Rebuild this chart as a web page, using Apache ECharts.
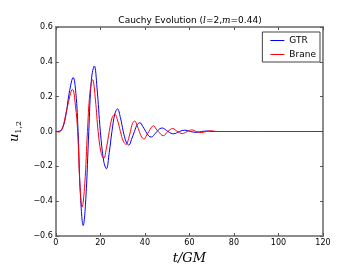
<!DOCTYPE html>
<html><head><meta charset="utf-8">
<script src="https://cdn.jsdelivr.net/npm/echarts@6/dist/echarts.min.js"></script>
<style>html,body{margin:0;padding:0;background:#fff}#c{width:360px;height:270px}</style>
</head><body><div id="c"></div>
<script>
const xTicks = [0, 20, 40, 60, 80, 100, 120];
const yTicks = [-0.6, -0.4, -0.2, 0.0, 0.2, 0.4, 0.6];
const gtrT = [0,2,4,6,7.8,9,10,11,12.3,13.5,14.8,16,17.3,18.5,20,21.5,22.7,24,25.2,26.5,27.7,29,30.3,31.6,32.8,34,35.3,36.6,37.8,39,40.4,41.7,42.9,44.2,45.4,46.7,47.9,49.1,50.4,51.7,53,54.2,55.5,58,60.5,63,65.5,68,70.5,75,120];
const gtrV = [0,0.004,0.06,0.22,0.31,0.22,0.0,-0.35,-0.54,-0.38,0.0,0.30,0.376,0.25,0.0,-0.17,-0.214,-0.12,0.0,0.10,0.13,0.08,0.0,-0.06,-0.078,-0.045,0.0,0.04,0.05,0.03,0.0,-0.025,-0.032,-0.018,0.0,0.016,0.02,0.012,0.0,-0.01,-0.013,-0.008,0.0,0.008,0.0,-0.005,0.0,0.003,0.0,0.0,0.0];
const braneT = [0,1.5,3,5,7.5,8.8,9.8,10.8,11.8,13,14.2,15.3,16.5,17.8,19,20.3,21.5,22.8,24,25.3,26.5,27.8,29,30.3,31.6,32.7,33.5,34.4,35.4,36.5,37.5,38.6,39.7,40.8,41.8,43,43.9,45,46,48.3,50.3,52.5,54.6,56.8,59,61,63.2,65.4,67.5,70,72,120];
const braneV = [0,-0.003,0.02,0.13,0.242,0.15,0.0,-0.30,-0.434,-0.30,0.0,0.22,0.298,0.18,0.0,-0.12,-0.155,-0.09,0.0,0.08,0.099,0.06,0.0,-0.055,-0.074,-0.04,0.0,0.045,0.06,0.035,0.0,-0.033,-0.043,-0.02,0.0,0.025,0.033,0.015,0.0,-0.024,0.0,0.017,0.0,-0.012,0.0,0.009,0.0,-0.006,0.0,0.004,0.0,0.0];

const zip = (a, b) => a.map((t, i) => [t, b[i]]);
const frame = {onZero: false, lineStyle: {color: '#8c8c8c', width: 2}};
const tick = {inside: true, length: 3, lineStyle: {color: '#555'}};
const chart = echarts.init(document.getElementById('c'));
chart.setOption({
  animation: false,
  title: {
    text: '{n|Cauchy Evolution (}{i|l}{n|=2,}{i|m}{n|=0.44)}',
    left: 185, top: 11, textAlign: 'center',
    textStyle: {fontWeight: 'normal', rich: {
      n: {fontFamily: 'DejaVu Sans', fontWeight: 'normal', fontSize: 9, color: '#000'},
      i: {fontFamily: 'DejaVu Serif', fontWeight: 'normal', fontStyle: 'italic', fontSize: 9, color: '#000'}
    }}
  },
  legend: {
    right: 40, top: 32, orient: 'vertical', itemWidth: 14, itemHeight: 1, itemGap: 5,
    borderColor: '#444', borderWidth: 1, padding: [4, 4, 3, 8],
    icon: 'rect',
    textStyle: {fontFamily: 'DejaVu Sans', fontSize: 9, color: '#000'},
    data: ['GTR', 'Brane']
  },
  grid: {left: 46, right: 37, top: 27, bottom: 28},
  xAxis: [{
    type: 'value', min: 0, max: 120, interval: 20,
    name: 't/GM', nameLocation: 'middle', nameGap: 16,
    nameTextStyle: {fontFamily: 'DejaVu Serif', fontStyle: 'italic', fontSize: 13, color: '#000'},
    axisLine: frame, axisTick: tick,
    axisLabel: {fontFamily: 'DejaVu Sans', fontSize: 8, color: '#000', margin: 3,
      formatter: v => xTicks.includes(v) ? String(v) : ''},
    splitLine: {show: false}
  }, {
    type: 'value', min: 0, max: 120, interval: 20, position: 'top',
    axisLine: frame, axisTick: tick,
    axisLabel: {show: false}, splitLine: {show: false}
  }],
  yAxis: [{
    type: 'value', min: -0.6, max: 0.6, interval: 0.2,
    name: '{u|u}{s|1,2}', nameLocation: 'middle', nameGap: 30, nameRotate: 90,
    nameTextStyle: {rich: {
      u: {fontFamily: 'DejaVu Serif', fontStyle: 'italic', fontSize: 13, color: '#000', lineHeight: 16},
      s: {fontFamily: 'DejaVu Serif', fontSize: 8, color: '#000', verticalAlign: 'bottom', lineHeight: 10, padding: [6, 0, 0, 0]}
    }},
    axisLine: frame, axisTick: tick,
    axisLabel: {fontFamily: 'DejaVu Sans', fontSize: 8, color: '#000', margin: 3,
      formatter: v => { const r = Math.round(v * 10) / 10; return (r < 0 ? '\u2212' : '') + Math.abs(r).toFixed(1); }},
    splitLine: {show: false}
  }, {
    type: 'value', min: -0.6, max: 0.6, interval: 0.2, position: 'right',
    axisLine: frame, axisTick: tick,
    axisLabel: {show: false}, splitLine: {show: false}
  }],
  series: [{
    name: 'GTR', type: 'line', data: zip(gtrT, gtrV), smooth: 0.4, showSymbol: false,
    color: '#0000ff', lineStyle: {width: 1, color: '#0000ff'}, z: 2
  }, {
    name: 'Brane', type: 'line', data: zip(braneT, braneV), smooth: 0.4, showSymbol: false,
    color: '#ff0000', lineStyle: {width: 1, color: '#ff0000'}, z: 3
  }]
});
</script></body></html>
